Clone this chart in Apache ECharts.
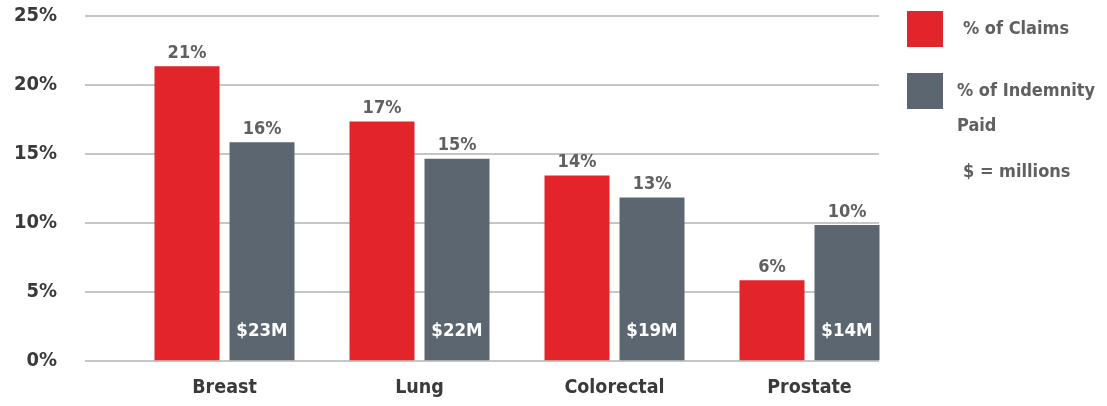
<!DOCTYPE html>
<html>
<head>
<meta charset="utf-8">
<script src="https://cdn.jsdelivr.net/npm/echarts@6/dist/echarts.min.js"></script>
<style>
html,body{margin:0;padding:0;background:#fff;}
#c{width:1107px;height:406px;}
</style>
</head>
<body>
<div id="c"></div>
<script>
const categories = ['Breast', 'Lung', 'Colorectal', 'Prostate'];
const claimsValues = [21.3, 17.3, 13.4, 5.8];
const indemnityValues = [15.8, 14.6, 11.8, 9.8];
const claimsLabels = ['21%', '17%', '14%', '6%'];
const indemnityLabels = ['16%', '15%', '13%', '10%'];
const amountLabels = ['$23M', '$22M', '$19M', '$14M'];
const yTicks = [0, 5, 10, 15, 20, 25];

const FONT = "'DejaVu Sans Condensed', 'Liberation Sans Narrow', sans-serif";
const RED = '#E3242B';
const GRAY = '#5B6670';
const LABEL_GRAY = '#606060';

const chart = echarts.init(document.getElementById('c'), null, {renderer: 'canvas'});
chart.setOption({
  animation: false,
  backgroundColor: '#fff',
  grid: [
    {left: 85, right: 228, top: 15.3, bottom: 45.7},
    {left: 127, right: 200, top: 15.3, bottom: 45.7}
  ],
  xAxis: [
    {type: 'category', gridIndex: 0, data: categories, show: false},
    {type: 'category', gridIndex: 1, data: categories,
     axisLine: {show: false}, axisTick: {show: false},
     axisLabel: {color: '#3a3a3a', fontFamily: FONT, fontWeight: 'bold', fontSize: 19.5, margin: 18}},
    {type: 'category', gridIndex: 1, data: categories, show: false}
  ],
  yAxis: [
    {type: 'value', gridIndex: 0, min: yTicks[0], max: yTicks[yTicks.length - 1], interval: 5,
     axisLine: {show: false}, axisTick: {show: false},
     splitLine: {lineStyle: {color: '#b3b3b3', width: 1.5}},
     axisLabel: {formatter: '{value}%', color: '#3a3a3a', fontFamily: FONT, fontWeight: 'bold', fontSize: 20, margin: 28}},
    {type: 'value', gridIndex: 1, min: yTicks[0], max: yTicks[yTicks.length - 1], interval: 5, show: false, splitLine: {show: false}}
  ],
  legend: {
    orient: 'vertical', left: 907, top: 11, padding: 0, itemWidth: 36, itemHeight: 36, itemGap: 26,
    icon: 'rect',
    textStyle: {color: LABEL_GRAY, fontFamily: FONT, fontWeight: 'bold', fontSize: 18, padding: [0, 0, 0, 15]},
    data: [
      {name: '% of Claims'},
      {name: '% of Indemnity', textStyle: {padding: [0, 0, 0, 9]}}
    ]
  },
  graphic: [
    {type: 'text', left: 957, top: 117, style: {text: 'Paid', fill: LABEL_GRAY, font: "bold 18px " + FONT}},
    {type: 'text', left: 963, top: 163, style: {text: '$ = millions', fill: LABEL_GRAY, font: "bold 18px " + FONT}}
  ],
  series: [
    {name: '% of Claims', type: 'bar', xAxisIndex: 1, yAxisIndex: 1, barWidth: 65, barGap: '15.4%',
     itemStyle: {color: RED}, data: claimsValues,
     label: {show: true, position: 'top', distance: 4, color: LABEL_GRAY, fontFamily: FONT, fontWeight: 'bold', fontSize: 18,
       formatter: p => claimsLabels[p.dataIndex]}},
    {name: '% of Indemnity', type: 'bar', xAxisIndex: 1, yAxisIndex: 1, barWidth: 65, barGap: '15.4%',
     itemStyle: {color: GRAY}, data: indemnityValues,
     label: {show: true, position: 'top', distance: 4, color: LABEL_GRAY, fontFamily: FONT, fontWeight: 'bold', fontSize: 18,
       formatter: p => indemnityLabels[p.dataIndex]}},
    {name: 'spacer', type: 'bar', xAxisIndex: 2, yAxisIndex: 1, barWidth: 65, barGap: '15.4%',
     itemStyle: {color: 'transparent'}, data: categories.map(() => null), silent: true},
    {name: 'amounts', type: 'bar', xAxisIndex: 2, yAxisIndex: 1, barWidth: 65, barGap: '15.4%',
     itemStyle: {color: 'transparent'}, data: indemnityValues, silent: true,
     label: {show: true, position: 'insideBottom', distance: 20, color: '#ffffff', fontFamily: FONT, fontWeight: 'bold', fontSize: 18.5,
       formatter: p => amountLabels[p.dataIndex]}}
  ]
});
</script>
</body>
</html>
